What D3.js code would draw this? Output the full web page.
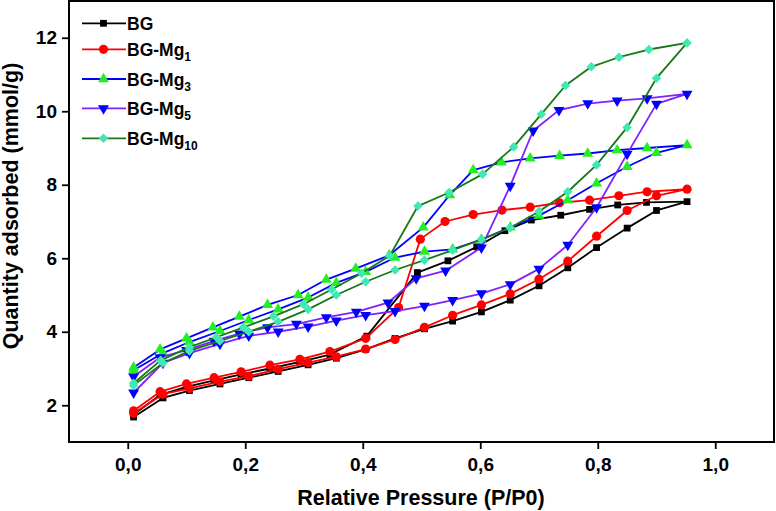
<!DOCTYPE html>
<html><head><meta charset="utf-8">
<script src="https://cdn.jsdelivr.net/npm/d3@7"></script>
<style>
html,body{margin:0;padding:0;background:#fff;}
svg{display:block;font-family:"Liberation Sans",Arial,sans-serif;font-weight:bold;}
</style></head>
<body><svg id="c" width="776" height="511"></svg>
<script>
const SERIES = ["BG","BG-Mg1","BG-Mg3","BG-Mg5","BG-Mg10"];
const X_TICKS = [0,0.2,0.4,0.6,0.8,1.0];
const Y_TICKS = [2,4,6,8,10,12];
const P_ADS = [0.01,0.06,0.105,0.157,0.206,0.256,0.307,0.355,0.405,0.455,0.505,0.553,0.602,0.651,0.70,0.749,0.798,0.85,0.90,0.952];

const BG_ADS = [1.68,2.2,2.4,2.58,2.75,2.92,3.1,3.28,3.52,3.82,4.08,4.29,4.54,4.86,5.25,5.74,6.29,6.82,7.3,7.54];
const BG_DES_P = [0.952,0.883,0.834,0.786,0.737,0.687,0.642,0.594,0.545,0.493,0.407,0.344,0.293,0.242,0.193,0.147,0.10,0.055,0.01];
const BG_DES = [7.54,7.52,7.45,7.33,7.17,7.04,6.75,6.31,5.93,5.61,3.88,3.38,3.18,3.0,2.84,2.68,2.5,2.28,1.75];

const MG1_ADS = [1.78,2.3,2.46,2.64,2.79,2.98,3.16,3.32,3.53,3.79,4.12,4.45,4.73,5.03,5.43,5.92,6.6,7.3,7.7,7.88];
const MG1_DES_P = [0.95,0.884,0.836,0.786,0.735,0.685,0.637,0.588,0.54,0.498,0.461,0.405,0.344,0.293,0.242,0.193,0.147,0.10,0.055,0.01];
const MG1_DES = [7.88,7.81,7.70,7.58,7.51,7.39,7.31,7.19,7.0,6.52,4.66,3.82,3.46,3.25,3.09,2.91,2.75,2.58,2.37,1.85];

const MG3_ADS = [2.95,3.42,3.72,4.02,4.32,4.61,4.93,5.33,5.63,6.02,6.18,6.24,6.51,6.84,7.16,7.58,8.04,8.49,8.87,9.08];
const MG3_DES_P = [0.951,0.884,0.833,0.783,0.735,0.685,0.636,0.588,0.548,0.503,0.445,0.388,0.338,0.29,0.238,0.19,0.145,0.10,0.055,0.01];
const MG3_DES = [9.08,9.0,8.94,8.85,8.79,8.72,8.61,8.40,7.72,6.84,6.08,5.72,5.42,5.0,4.73,4.41,4.12,3.82,3.52,3.03];

const MG5_ADS = [2.34,3.15,3.42,3.67,3.89,4.0,4.14,4.30,4.45,4.56,4.70,4.86,5.04,5.29,5.71,6.36,7.38,8.84,10.2,10.47];
const MG5_DES_P = [0.955,0.884,0.833,0.783,0.734,0.69,0.651,0.602,0.541,0.491,0.443,0.389,0.338,0.287,0.238,0.19,0.147,0.10,0.055,0.01];
const MG5_DES = [10.47,10.35,10.29,10.21,10.03,9.47,7.97,6.29,5.66,5.45,4.79,4.54,4.39,4.21,4.12,3.95,3.75,3.5,3.3,2.78];

const MG10_ADS = [2.54,3.15,3.48,3.75,4.0,4.27,4.61,5.0,5.36,5.68,5.95,6.22,6.51,6.83,7.27,7.81,8.54,9.56,10.9,11.86];
const MG10_DES_P = [0.947,0.887,0.836,0.789,0.745,0.704,0.657,0.604,0.547,0.494,0.446,0.398,0.347,0.299,0.248,0.197,0.151,0.105,0.056,0.01];
const MG10_DES = [11.86,11.68,11.47,11.21,10.70,9.92,9.03,8.29,7.79,7.42,6.07,5.59,5.15,4.75,4.42,4.12,3.85,3.58,3.22,2.6];

const svg = d3.select("#c");
const x = d3.scaleLinear().domain([-0.1,1.1]).range([69,774]);
const y = d3.scaleLinear().domain([1,13]).range([442,1]);

const styles = [
  {line:"#000000", fill:"#000000", sym:d3.symbolSquare, size:46, rot:0},
  {line:"#ff0000", fill:"#ff0000", sym:d3.symbolCircle, size:66, rot:0},
  {line:"#0000ff", fill:"#22ee22", sym:d3.symbolTriangle, size:52, rot:0},
  {line:"#8020ff", fill:"#0000ff", sym:d3.symbolTriangle, size:52, rot:180},
  {line:"#167816", fill:"#40e8b4", sym:d3.symbolSquare, size:46, rot:45}
];

function pts(px, py){ return px.map((p,i)=>[p,py[i]]); }
const data = [
  pts(P_ADS,BG_ADS).concat(pts(BG_DES_P,BG_DES).slice(1)),
  pts(P_ADS,MG1_ADS).concat(pts(MG1_DES_P,MG1_DES).slice(1)),
  pts(P_ADS,MG3_ADS).concat(pts(MG3_DES_P,MG3_DES).slice(1)),
  pts(P_ADS,MG5_ADS).concat(pts(MG5_DES_P,MG5_DES).slice(1)),
  pts(P_ADS,MG10_ADS).concat(pts(MG10_DES_P,MG10_DES).slice(1))
];

const line = d3.line().x(d=>x(d[0])).y(d=>y(d[1]));
const plot = svg.append("g");
data.forEach((d,i)=>{
  const s = styles[i];
  plot.append("path").attr("d", line(d)).attr("fill","none")
    .attr("stroke", s.line).attr("stroke-width",1.8).attr("stroke-linejoin","round");
  plot.selectAll(null).data(d).enter().append("path")
    .attr("d", d3.symbol().type(s.sym).size(s.size)())
    .attr("transform", p=>`translate(${x(p[0])},${y(p[1])}) rotate(${s.rot})`)
    .attr("fill", s.fill);
});

// frame
svg.append("rect").attr("x",x(-0.1)).attr("y",y(13)).attr("width",x(1.1)-x(-0.1)).attr("height",y(1)-y(13))
  .attr("fill","none").attr("stroke","#000").attr("stroke-width",2);

const fmt = v => d3.format(".1f")(v).replace(".",",");
const xAxis = svg.append("g").attr("transform",`translate(0,${y(1)})`)
  .call(d3.axisBottom(x).tickValues(X_TICKS).tickFormat(fmt).tickSize(7).tickPadding(9));
const yAxis = svg.append("g").attr("transform",`translate(${x(-0.1)},0)`)
  .call(d3.axisLeft(y).tickValues(Y_TICKS).tickFormat(d3.format("d")).tickSize(7).tickPadding(5));
[xAxis,yAxis].forEach(a=>{
  a.select(".domain").remove();
  a.selectAll(".tick line").attr("stroke","#000").attr("stroke-width",1.8);
  a.selectAll(".tick text").attr("fill","#000").style("font-size","19px").style("font-weight","bold")
    .style("font-family","'Liberation Sans',Arial,sans-serif");
});

svg.append("text").attr("x",421).attr("y",505).attr("text-anchor","middle")
  .style("font-size","21.5px").text("Relative Pressure (P/P0)");
svg.append("text").attr("transform","translate(18,206) rotate(-90)").attr("text-anchor","middle")
  .style("font-size","21.5px").text("Quantity adsorbed (mmol/g)");

// legend
const legY = [23.3,49.3,79,108.3,138.3];
const subs = ["","1","3","5","10"];
SERIES.forEach((name,i)=>{
  const s = styles[i], ly = legY[i];
  svg.append("line").attr("x1",82).attr("x2",126).attr("y1",ly).attr("y2",ly)
    .attr("stroke",s.line).attr("stroke-width",1.8);
  svg.append("path").attr("d", d3.symbol().type(s.sym).size(s.size)())
    .attr("transform",`translate(103.5,${ly}) rotate(${s.rot})`).attr("fill",s.fill);
  const t = svg.append("text").attr("x",127).attr("y",ly+7).style("font-size","17.5px");
  const base = subs[i] ? name.slice(0, name.length - subs[i].length) : name;
  t.append("tspan").text(base);
  if (subs[i]) t.append("tspan").attr("dy",5).style("font-size","12px").text(subs[i]);
});
</script></body></html>
